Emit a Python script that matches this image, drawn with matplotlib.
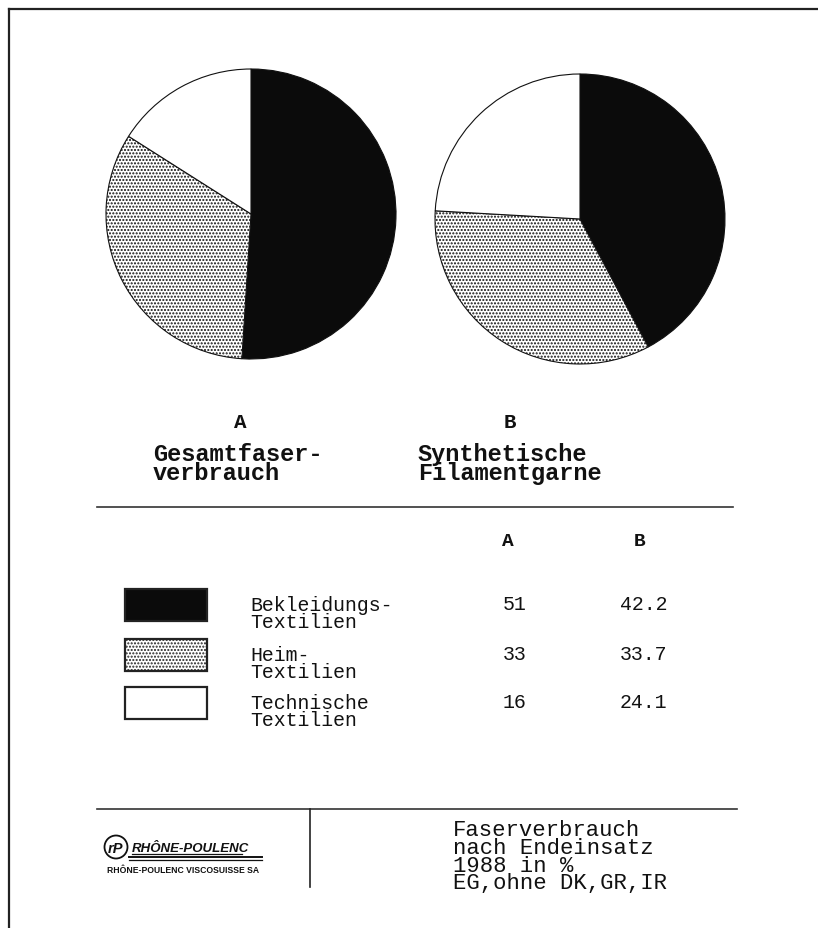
import matplotlib
matplotlib.use("Agg")
import matplotlib.pyplot as plt
from matplotlib.patches import Rectangle, Circle

plt.rcParams.update({
    "font.family": ["Liberation Mono", "DejaVu Sans Mono"],
    "hatch.linewidth": 1.0,
})

# data
categories = ["Bekleidungs-\nTextilien", "Heim-\nTextilien", "Technische\nTextilien"]
share_a = [51, 33, 16]
share_b = [42.2, 33.7, 24.1]
pie_titles = ["Gesamtfaser-\nverbrauch", "Synthetische\nFilamentgarne"]
pie_keys = ["A", "B"]
footer_lines = ["Faserverbrauch", "nach Endeinsatz", "1988 in %", "EG,ohne DK,GR,IR"]

# styles per category
fills = ["#0b0b0b", "white", "white"]
hatches = [None, ".....", None]
ink = "#111111"

W, H = 818, 929
fig = plt.figure(figsize=(W / 100, H / 100), dpi=100)
fig.patch.set_facecolor("white")

# overlay in pixel coordinates
ov = fig.add_axes([0, 0, 1, 1])
ov.set_xlim(0, W)
ov.set_ylim(H, 0)
ov.axis("off")

# page frame
ov.plot([9, W], [10, 10], color="#222", lw=1.6)
ov.plot([9, 9], [10, H], color="#222", lw=1.6)

# pies
centers = [(251, 215), (580, 220)]
R = 145
for (cx, cy), vals in zip(centers, [share_a, share_b]):
    pad = 1.02
    ax = fig.add_axes([(cx - R * pad) / W, 1 - (cy + R * pad) / H,
                       2 * R * pad / W, 2 * R * pad / H])
    wedges, _ = ax.pie(vals, startangle=90, counterclock=False, colors=fills,
                       wedgeprops=dict(edgecolor="#111", linewidth=0.8))
    for w, h in zip(wedges, hatches):
        if h:
            w.set_hatch(h)
    ax.set_xlim(-pad, pad)
    ax.set_ylim(-pad, pad)
    ax.set_aspect("equal")
    ax.axis("off")

# pie captions
for x, key in zip([240, 510], pie_keys):
    ov.text(x, 428, key, ha="center", va="baseline", fontsize=15,
            fontweight="bold", color=ink)
for x, title in zip([153, 418], pie_titles):
    ov.text(x, 443, title, ha="left", va="top", fontsize=17,
            fontweight="bold", color=ink, linespacing=0.8)

ov.plot([97, 733], [508, 508], color="#333", lw=1.2)

# table header
for x, key in zip([508, 640], pie_keys):
    ov.text(x, 546, key, ha="center", va="baseline", fontsize=14,
            fontweight="bold", color=ink)

# legend table
row_y = [590, 640, 688]
for y0, cat, fc, h, a, b in zip(row_y, categories, fills, hatches, share_a, share_b):
    ov.add_patch(Rectangle((125, y0), 82, 32, facecolor=fc, edgecolor="#222",
                           lw=1.6, hatch=h))
    ov.text(250, y0 + 6, cat, ha="left", va="top", fontsize=14.3,
            color=ink, linespacing=0.87)
    ov.text(503, y0 + 20, str(a), ha="left", va="baseline", fontsize=14.3, color=ink)
    ov.text(620, y0 + 20, str(b), ha="left", va="baseline", fontsize=14.3, color=ink)

# footer
ov.plot([97, 737], [810, 810], color="#333", lw=1.2)
ov.plot([310, 310], [810, 888], color="#222", lw=1.2)
ov.text(453, 820, "\n".join(footer_lines), ha="left", va="top", fontsize=16,
        color=ink, linespacing=0.8)

# logo
ov.add_patch(Circle((116, 848), 11.5, facecolor="none", edgecolor="#111", lw=1.3))
ov.text(116, 853, "rP", ha="center", va="baseline", fontsize=10.5,
        fontweight="bold", style="italic", family="Liberation Sans", color=ink)
ov.text(132, 852, "RHÔNE-POULENC", ha="left", va="baseline", fontsize=9.5,
        fontweight="bold", style="italic", family="Liberation Sans", color=ink)
ov.plot([132, 242], [855, 855], color=ink, lw=0.9)
ov.plot([129, 262], [858, 858], color=ink, lw=1.4)
ov.plot([129, 262], [861, 861], color=ink, lw=0.9)
ov.text(107, 873, "RHÔNE-POULENC VISCOSUISSE SA", ha="left", va="baseline",
        fontsize=6.2, fontweight="bold", family="Liberation Sans", color=ink)

fig.savefig("out.png", dpi=100, facecolor="white")
